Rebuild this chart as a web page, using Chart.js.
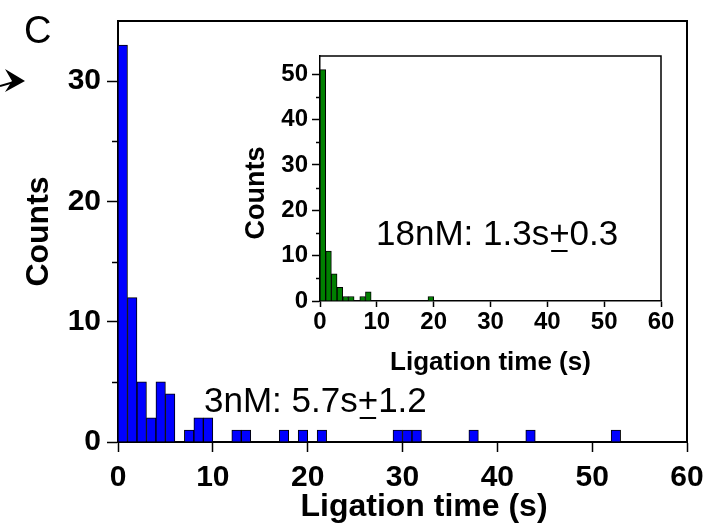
<!DOCTYPE html>
<html>
<head>
<meta charset="utf-8">
<script src="https://cdn.jsdelivr.net/npm/chart.js@4.4.1/dist/chart.umd.min.js"></script>
<style>
  html, body { margin: 0; padding: 0; background: #fff; }
  #wrap { position: relative; width: 711px; height: 527px; }
  #mainChart { position: absolute; left: 0; top: 0; }
  #insetChart { position: absolute; left: 229px; top: 40px; }
</style>
</head>
<body>
<div id="wrap">
  <canvas id="mainChart" width="711" height="527"></canvas>
  <canvas id="insetChart" width="460" height="340"></canvas>
</div>
<script>
// 3 nM (main panel): 1 s bins, given by bin start
const mainBinStart = [0, 1, 2, 3, 4, 5, 7, 8, 9, 12, 13, 17, 19, 21, 29, 30, 31, 37, 43, 52];
const mainCounts = [33, 12, 5, 2, 5, 4, 1, 2, 2, 1, 1, 1, 1, 1, 1, 1, 1, 1, 1, 1];

// 18 nM (inset)
const insetBinStart = [0, 1, 2, 3, 4, 5, 7, 8, 19];
const insetCounts = [51, 11, 6, 3, 1, 1, 1, 2, 1];

const timeTicks = [0, 10, 20, 30, 40, 50, 60];
const mainCountTicks = [0, 10, 20, 30];
const mainMinorTicks = [5, 15, 25];
const insetCountTicks = [0, 10, 20, 30, 40, 50];
const insetMinorTicks = [5, 15, 25, 35, 45];

const FONT = "'Liberation Sans', Arial, Helvetica, sans-serif";
Chart.defaults.font.family = FONT;
Chart.defaults.color = "#000";

const toBars = (starts, counts) => starts.map((s, i) => ({ x: s + 0.5, y: counts[i] }));
const setTicks = (vals) => (scale) => { scale.ticks = vals.map((v) => ({ value: v })); };
// fixed axis height, and no extra room for the end labels
const fixHeight = (h) => (scale) => {
  scale.height = h;
  scale.paddingLeft = 0;
  scale.paddingRight = 0;
};

// frame (top + right) and short minor ticks on y
const framePlugin = {
  id: "frame",
  afterDraw(chart, args, opts) {
    const { ctx, chartArea: a } = chart;
    const y = chart.scales.y;
    ctx.save();
    ctx.strokeStyle = "#000";
    ctx.lineWidth = opts.width;
    ctx.beginPath();
    ctx.moveTo(a.left, a.top);
    ctx.lineTo(a.right, a.top);
    ctx.lineTo(a.right, a.bottom);
    ctx.stroke();
    ctx.lineWidth = 1.5;
    ctx.beginPath();
    opts.minor.forEach((v) => {
      const py = Math.round(y.getPixelForValue(v)) + 0.5;
      ctx.moveTo(a.left - opts.minorLen, py);
      ctx.lineTo(a.left, py);
    });
    ctx.stroke();
    ctx.restore();
  },
};

// "text +value" with underlined plus
function drawPm(ctx, x, y, pre, post) {
  ctx.fillText(pre, x, y);
  const w = ctx.measureText(pre).width;
  ctx.fillText("+", x + w, y);
  const pw = ctx.measureText("+").width;
  ctx.fillRect(x + w + 2, y + 5, pw - 4, 2);
  ctx.fillText(post, x + w + pw, y);
}

const notePlugin = {
  id: "note",
  afterDraw(chart, args, opts) {
    const ctx = chart.ctx;
    ctx.save();
    ctx.fillStyle = "#000";
    ctx.textBaseline = "alphabetic";
    ctx.font = "35px " + FONT;
    drawPm(ctx, opts.x, opts.y, opts.pre, opts.post);
    // extra titles placed by hand
    opts.texts.forEach((t) => {
      ctx.save();
      ctx.font = t.font;
      ctx.textAlign = "center";
      ctx.textBaseline = "middle";
      ctx.translate(t.x, t.y);
      if (t.rotate) ctx.rotate(-Math.PI / 2);
      ctx.fillText(t.text, 0, 0);
      ctx.restore();
    });
    if (opts.panel) {
      ctx.font = "38px " + FONT;
      ctx.fillText("C", 24, 43);
      // arrow from the neighbouring panel
      ctx.lineWidth = 2;
      ctx.beginPath();
      ctx.moveTo(0, 86);
      ctx.lineTo(14, 82);
      ctx.stroke();
      ctx.beginPath();
      ctx.moveTo(25, 81);
      ctx.lineTo(5, 69);
      ctx.lineTo(12, 81);
      ctx.lineTo(5, 92);
      ctx.closePath();
      ctx.fill();
    }
    ctx.restore();
  },
};

new Chart(document.getElementById("mainChart"), {
  type: "bar",
  data: {
    datasets: [{
      data: toBars(mainBinStart, mainCounts),
      backgroundColor: "#0000ff",
      borderColor: "#000",
      borderWidth: 1,
      barPercentage: 1,
      categoryPercentage: 1,
    }],
  },
  options: {
    responsive: false,
    animation: false,
    layout: { padding: { left: 0, right: 24, top: 21, bottom: 0 } },
    plugins: {
      legend: { display: false },
      tooltip: { enabled: false },
      frame: { width: 2, minor: mainMinorTicks, minorLen: 6 },
      note: {
        x: 204, y: 412, pre: "3nM: 5.7s", post: "1.2", panel: true,
        texts: [{ text: "Ligation time (s)", x: 424, y: 507, font: "bold 32px " + FONT }],
      },
    },
    scales: {
      x: {
        type: "linear",
        min: 0,
        max: 60,
        offset: false,
        afterFit: fixHeight(85),
        afterBuildTicks: setTicks(timeTicks),
        grid: { offset: false, drawOnChartArea: false, tickLength: 10, tickWidth: 1.5, tickColor: "#000" },
        border: { color: "#000", width: 2 },
        ticks: { font: { size: 30, weight: "bold", lineHeight: 1 }, padding: 11, maxRotation: 0, autoSkip: false },
      },
      y: {
        min: 0,
        max: 35,
        afterFit: (s) => { s.width = 118; },
        afterBuildTicks: setTicks(mainCountTicks),
        grid: { drawOnChartArea: false, tickLength: 11, tickWidth: 1.5, tickColor: "#000" },
        border: { color: "#000", width: 2 },
        ticks: { font: { size: 30, weight: "bold", lineHeight: 1 }, padding: 6 },
        title: { display: true, text: "Counts", font: { size: 32, weight: "bold", lineHeight: 1 }, padding: { top: 23, bottom: 0 } },
      },
    },
  },
  plugins: [framePlugin, notePlugin],
});

new Chart(document.getElementById("insetChart"), {
  type: "bar",
  data: {
    datasets: [{
      data: toBars(insetBinStart, insetCounts),
      backgroundColor: "#008000",
      borderColor: "#000",
      borderWidth: 1,
      barPercentage: 1,
      categoryPercentage: 1,
    }],
  },
  options: {
    responsive: false,
    animation: false,
    layout: { padding: { left: 0, right: 28, top: 9, bottom: 0 } },
    plugins: {
      legend: { display: false },
      tooltip: { enabled: false },
      frame: { width: 1.5, minor: insetMinorTicks, minorLen: 4 },
      note: {
        x: 147, y: 205, pre: "18nM: 1.3s", post: "0.3", panel: false,
        texts: [{ text: "Counts", x: 28, y: 153, font: "bold 27px " + FONT, rotate: true }],
      },
    },
    scales: {
      x: {
        type: "linear",
        min: 0,
        max: 60,
        offset: false,
        afterFit: fixHeight(79),
        afterBuildTicks: setTicks(timeTicks),
        grid: { offset: false, drawOnChartArea: false, tickLength: 6, tickWidth: 1.5, tickColor: "#000" },
        border: { color: "#000", width: 1.5 },
        ticks: { font: { size: 24, weight: "bold", lineHeight: 1 }, padding: 3, maxRotation: 0, autoSkip: false },
        title: { display: true, text: "Ligation time (s)", font: { size: 26, weight: "bold", lineHeight: 1 }, padding: { top: 0, bottom: 4 } },
      },
      y: {
        min: 0,
        max: 54,
        afterFit: (s) => { s.width = 91; },
        afterBuildTicks: setTicks(insetCountTicks),
        grid: { drawOnChartArea: false, tickLength: 8, tickWidth: 1.5, tickColor: "#000" },
        border: { color: "#000", width: 1.5 },
        ticks: { font: { size: 24, weight: "bold", lineHeight: 1 }, padding: 4 },
      },
    },
  },
  plugins: [framePlugin, notePlugin],
});
</script>
</body>
</html>
